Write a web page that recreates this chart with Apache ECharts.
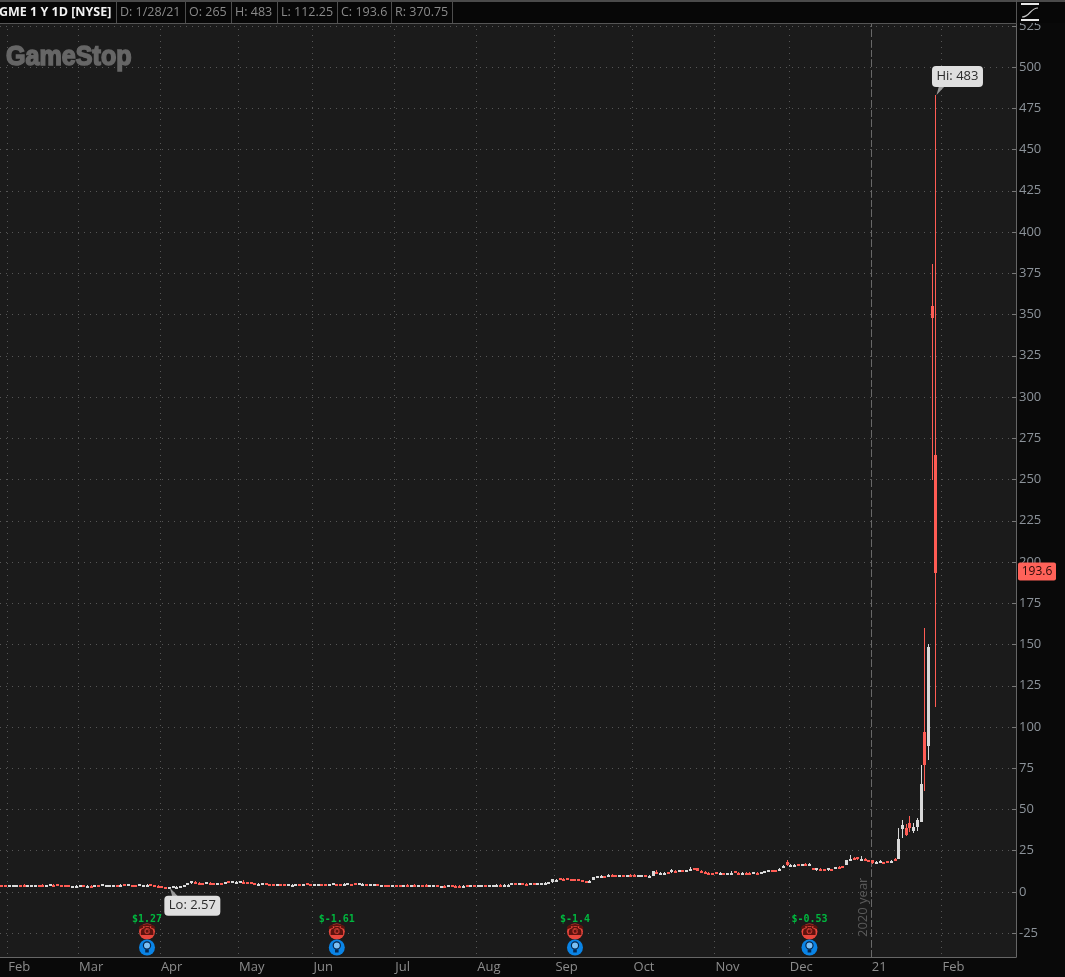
<!DOCTYPE html>
<html>
<head>
<meta charset="utf-8">
<title>GME 1 Y 1D</title>
<script src="https://cdn.jsdelivr.net/npm/echarts@6/dist/echarts.min.js"></script>
<style>
  html, body { margin: 0; padding: 0; background: #090909; }
  #main { width: 1065px; height: 977px; }
</style>
</head>
<body>
<div id="main"></div>
<script>
// daily candles, Jan 30 2020 .. Jan 28 2021
const opens = [
  4.45,3.95,3.75,3.8,4.2,4.35,4.5,3.9,3.95,4.0,
  4.35,4.5,4.0,3.9,4.5,4.7,4.0,3.95,4.0,3.3,
  3.2,3.8,3.95,3.75,3.85,3.75,3.95,3.85,3.9,3.95,
  4.1,4.3,4.0,4.6,3.9,4.3,4.2,3.9,4.1,4.0,
  4.9,4.2,3.9,3.4,3.2,2.9,2.95,3.1,3.2,3.5,
  4.4,5.2,6.3,5.7,5.4,5.35,5.6,5.3,5.2,5.25,
  5.0,6.4,5.7,5.7,6.0,6.3,6.0,6.0,5.3,5.0,
  5.1,5.2,4.7,4.6,3.9,4.8,4.7,4.4,4.5,4.5,
  4.6,4.5,5.3,4.9,4.5,4.5,4.6,4.6,4.55,4.5,
  5.0,4.85,4.8,4.4,4.9,5.6,4.4,4.4,4.85,4.75,
  4.7,5.0,4.3,4.35,4.4,4.35,4.4,4.35,4.3,4.45,
  4.3,4.4,4.2,4.3,4.5,3.95,4.0,4.05,3.5,3.8,
  3.5,3.95,3.9,3.9,3.7,3.95,3.6,4.1,3.7,4.1,
  4.3,4.25,4.3,4.3,4.4,4.35,4.4,4.5,5.5,4.7,
  5.2,5.0,4.9,5.4,5.35,5.4,5.5,5.55,5.9,6.6,
  8.4,8.0,8.3,7.9,7.9,8.0,7.1,6.6,6.8,7.2,
  8.7,9.3,9.7,9.9,10.5,10.3,9.6,10.4,9.9,10.3,
  10.4,9.8,9.8,10.1,9.5,9.5,12.0,11.2,11.3,12.2,
  11.8,12.9,12.2,13.2,12.9,13.4,14.3,14.5,13.0,12.1,
  11.7,11.5,11.9,10.9,11.5,11.0,11.0,12.6,11.8,11.6,
  11.8,11.8,11.0,11.6,11.6,11.8,12.2,13.5,13.4,13.0,
  14.8,18.0,15.8,15.6,16.7,16.2,17.2,16.4,14.4,13.1,
  14.2,13.9,13.0,14.0,14.1,15.4,15.6,16.2,19.4,20.7,
  21.0,19.6,20.0,19.5,19.3,17.9,18.0,18.2,18.9,18.0,
  19.9,20.0,38.2,39.0,42.0,37.0,39.6,42.6,97.0,88.5,355.0,265
];
const closes = [
  3.9,3.85,3.95,4.2,4.35,4.2,3.9,4.05,4.1,4.2,
  4.15,4.0,4.15,4.6,4.4,4.0,3.9,3.85,3.2,3.45,
  3.9,3.95,3.7,3.85,3.75,3.95,3.85,4.7,4.0,4.1,
  4.3,4.0,4.25,4.0,4.6,4.2,4.05,4.6,4.2,4.3,
  4.2,3.95,3.5,3.15,2.75,3.0,3.35,3.25,3.55,4.1,
  5.3,6.6,5.7,5.4,5.35,6.0,5.3,5.2,5.25,5.0,
  6.1,5.4,6.6,6.3,6.7,6.0,5.8,5.2,4.9,5.1,
  5.2,4.3,4.5,4.5,5.0,4.6,4.45,4.55,4.5,4.6,
  4.5,4.55,4.6,4.0,4.6,4.55,4.5,4.55,4.6,5.2,
  4.85,4.8,4.9,5.2,4.7,4.9,5.3,5.1,4.75,4.8,
  4.75,4.3,4.35,4.3,4.3,4.4,4.35,4.3,4.4,4.3,
  4.4,4.2,4.35,4.2,3.85,4.05,4.2,3.4,3.8,3.75,
  4.15,3.9,3.75,3.7,3.9,3.65,4.35,3.95,4.3,4.2,
  4.25,4.3,4.35,4.4,4.35,4.4,4.5,5.2,4.75,5.3,
  5.0,4.95,5.45,5.35,5.4,5.5,5.55,5.8,7.6,7.5,
  7.6,7.9,7.75,7.65,7.6,7.2,6.6,6.55,6.9,8.8,
  9.6,9.8,9.1,10.1,9.8,9.5,10.1,9.9,10.4,10.0,
  9.9,10.1,10.0,9.5,9.9,12.6,11.3,11.5,11.5,11.6,
  13.3,12.7,13.1,12.9,13.2,14.2,14.0,12.8,12.2,11.7,
  11.5,11.2,10.9,11.6,11.1,11.6,11.6,11.6,11.5,11.8,
  11.5,11.3,12.1,11.4,11.9,12.5,13.2,13.0,12.9,14.1,
  15.9,16.2,16.6,16.5,16.1,16.8,16.6,17.0,13.8,14.4,
  13.7,13.2,14.4,13.9,15.0,14.9,15.1,19.1,20.3,19.7,
  20.0,20.1,19.4,18.8,17.2,18.3,18.9,18.0,18.0,19.0,
  19.6,32.0,40.6,35.0,39.2,39.6,43.6,65.5,77.0,148.7,347.5,193.6
];
const lows = [
  3.85,3.75,3.7,3.75,4.1,4.1,3.85,3.75,3.8,3.9,
  4.0,3.95,3.9,3.85,4.2,3.95,3.8,3.75,3.15,3.0,
  3.15,3.55,3.6,3.6,3.6,3.65,3.7,3.8,3.7,3.75,
  3.9,3.85,3.85,3.95,3.85,3.9,3.9,3.85,3.9,3.85,
  4.15,3.85,3.4,3.05,2.7,2.57,2.85,2.95,3.1,3.4,
  4.3,5.1,5.1,5.0,5.0,5.2,5.1,5.0,4.95,4.8,
  4.9,5.3,5.6,5.5,5.9,5.7,5.7,5.1,4.8,4.8,
  4.8,4.2,4.35,4.3,3.85,4.4,4.3,4.3,4.3,4.4,
  4.3,4.35,4.5,3.95,4.35,4.3,4.35,4.4,4.4,4.4,
  4.6,4.6,4.6,4.3,4.6,4.8,4.3,4.3,4.6,4.5,
  4.5,4.2,4.2,4.15,4.15,4.2,4.2,4.15,4.15,4.2,
  4.15,4.0,4.1,4.05,3.8,3.8,3.95,3.35,3.4,3.6,
  3.45,3.7,3.65,3.55,3.6,3.55,3.55,3.65,3.65,3.95,
  4.1,4.1,4.15,4.15,4.2,4.2,4.25,4.4,4.6,4.6,
  4.8,4.8,4.85,5.1,5.15,5.2,5.3,5.35,5.7,6.9,
  7.5,7.4,7.6,7.5,7.5,7.1,6.5,6.1,6.6,7.1,
  8.6,9.2,9.0,9.6,9.7,9.4,9.5,9.8,9.8,9.9,
  9.6,9.5,9.6,9.4,9.4,9.4,11.1,11.0,11.1,11.4,
  11.7,12.2,12.1,12.7,12.7,13.2,13.7,12.7,11.9,11.4,
  11.1,10.9,10.8,10.8,10.9,10.9,10.9,11.4,11.2,11.1,
  11.2,11.1,10.9,11.2,11.3,11.7,12.1,12.8,12.7,12.9,
  14.7,15.9,15.5,15.4,15.9,16.1,16.4,16.3,13.6,13.0,
  13.3,12.9,12.9,13.6,14.0,14.7,14.9,16.1,19.0,19.5,
  19.5,19.4,19.2,18.5,17.0,17.6,17.8,17.7,17.6,17.9,
  19.3,20.0,33.0,34.0,36.5,35.6,37.0,42.3,61.1,80.2,250,112.25
];
const highs = [
  4.5,4.05,4.05,4.3,4.4,4.45,4.55,4.3,4.3,4.45,
  4.45,4.6,4.2,4.7,4.6,4.75,4.1,4.05,4.05,3.6,
  4.0,4.05,4.1,3.95,3.95,4.0,4.05,4.85,4.3,4.4,
  4.5,4.4,4.7,4.7,4.7,4.4,4.3,4.7,4.5,4.8,
  4.95,4.3,4.0,3.5,3.3,3.1,3.45,3.55,3.7,4.2,
  5.5,6.7,6.4,5.9,5.7,6.2,5.8,5.6,5.6,5.5,
  6.2,6.5,6.7,6.6,6.9,7.2,6.3,6.1,5.4,5.3,
  5.4,5.3,4.9,4.8,5.1,4.9,4.85,4.7,4.7,4.8,
  4.8,4.8,5.4,5.0,4.9,4.9,4.85,4.8,4.9,5.4,
  5.1,5.0,5.6,5.3,5.1,5.7,5.4,5.2,5.0,5.0,
  4.9,5.05,4.5,4.5,4.5,4.5,4.5,4.45,4.5,4.6,
  4.5,4.6,4.5,4.45,4.6,4.2,4.35,4.1,3.9,4.0,
  4.3,4.1,4.05,4.0,4.05,4.1,4.45,4.25,4.5,4.45,
  4.5,4.5,4.5,4.6,4.6,4.65,4.7,5.3,5.6,5.4,
  5.3,5.2,5.6,5.6,5.6,5.7,5.8,6.0,7.7,8.0,
  8.5,8.6,8.5,8.1,8.0,8.1,7.2,6.9,7.2,9.0,
  9.8,10.0,9.8,11.0,10.8,10.5,10.3,10.6,10.6,10.9,
  10.8,10.3,10.2,10.2,10.1,12.8,13.5,12.3,11.9,12.4,
  14.2,13.2,13.3,13.4,13.5,15.2,14.7,14.6,13.2,12.5,
  11.9,11.7,12.0,11.9,11.7,11.8,12.8,12.8,11.9,12.2,
  11.9,11.9,12.3,11.9,12.1,12.7,13.5,13.6,13.5,14.3,
  16.1,19.6,17.2,17.0,16.9,17.0,17.4,17.3,14.6,14.6,
  14.3,14.1,14.6,14.2,15.2,15.6,15.8,19.3,22.3,21.0,
  21.4,21.8,20.4,19.6,19.5,18.6,19.3,18.4,19.0,19.6,
  20.6,39.0,43.6,41.0,46.0,41.6,45.0,77.0,160,150.3,380.6,483
];

const slotCount = 273; // trading days plus the empty space right of the last candle
const monthStarts = [2, 21, 43, 64, 84, 106, 128, 149, 170, 192, 212, 234, 253];
const monthLabels = ["Feb", "Mar", "Apr", "May", "Jun", "Jul", "Aug", "Sep", "Oct", "Nov", "Dec", "21", "Feb"];
const yearStart = 234;
const priceTicks = [-25, 0, 25, 50, 75, 100, 125, 150, 175, 200, 225, 250, 275, 300, 325, 350, 375, 400, 425, 450, 475, 500, 525];
const priceMin = -39.4;
const priceMax = 526.7;

const earningsDays = [39, 90, 154, 217];
const earningsTexts = ["$1.27", "$-1.61", "$-1.4", "$-0.53"];

const calloutDays = [251, 45];
const calloutPrices = [483, 2.57];
const calloutTexts = ["Hi: 483", "Lo: 2.57"];

const lastClose = 193.6;
const headerTexts = ["D: 1/28/21", "O: 265", "H: 483", "L: 112.25", "C: 193.6", "R: 370.75"];
const headerEdges = [116, 185, 231, 277, 337, 391, 452];

const categories = [];
for (let i = 0; i < slotCount; i++) {
  const m = monthStarts.indexOf(i);
  categories.push(m >= 0 ? monthLabels[m] : "d" + i);
}
const candles = opens.map((o, i) => [i, o, closes[i], lows[i], highs[i]]);
const isMonthStart = (i) => monthStarts.includes(i);

const UP = "#d9d9d9";
const DOWN = "#ff5c54";
const UI_FONT = '"Open Sans", sans-serif';

// the platform never draws a body thinner than about 2px, so candles are drawn by hand
function renderCandle(params, api) {
  const day = api.value(0);
  const o = api.coord([day, api.value(1)]);
  const c = api.coord([day, api.value(2)]);
  const l = api.coord([day, api.value(3)]);
  const h = api.coord([day, api.value(4)]);
  const color = api.value(2) >= api.value(1) ? UP : DOWN;
  const x = Math.floor(o[0]) - 1;
  const top = Math.round(Math.min(o[1], c[1]));
  const bodyH = Math.max(2, Math.round(Math.abs(o[1] - c[1])));
  const wickTop = Math.round(h[1]);
  return {
    type: "group",
    children: [
      { type: "rect", shape: { x: x + 1, y: wickTop, width: 1, height: Math.max(1, Math.round(l[1]) - wickTop) }, style: { fill: color } },
      { type: "rect", shape: { x: x, y: top, width: 3, height: bodyH }, style: { fill: color } },
    ],
  };
}

function renderEarnings(params, api) {
  const i = params.dataIndex;
  const p = api.coord([earningsDays[i], 0]);
  const cx = p[0];
  const base = p[1];
  return {
    type: "group",
    children: [
      { type: "text", style: { x: cx, y: base + 27, text: earningsTexts[i], fill: "#00b83f", font: 'bold 10px "DejaVu Sans Mono"', align: "center", verticalAlign: "middle" } },
      { type: "circle", shape: { cx: cx, cy: base + 39.5, r: 8 }, style: { fill: "#e8463c" } },
      { type: "text", style: { x: cx, y: base + 39.5, text: "\u260E", fill: "#5c120e", font: '15px "DejaVu Sans"', align: "center", verticalAlign: "middle" } },
      { type: "circle", shape: { cx: cx, cy: base + 55.5, r: 8 }, style: { fill: "#0a84e6" } },
      { type: "circle", shape: { cx: cx, cy: base + 53.5, r: 3.6 }, style: { fill: "#7cc0f5", stroke: "#06264d", lineWidth: 1.2 } },
      { type: "rect", shape: { x: cx - 1.8, y: base + 57.5, width: 3.6, height: 3 }, style: { fill: "#06264d" } },
    ],
  };
}

function renderCallout(params, api) {
  const i = params.dataIndex;
  const p = api.coord([calloutDays[i], calloutPrices[i]]);
  const isHi = calloutPrices[i] > lastClose;
  const w = isHi ? 51 : 56;
  const h = isHi ? 21 : 20;
  const left = p[0] - (isHi ? 4 : 5);
  const top = isHi ? p[1] - 29 : p[1] + 8;
  const edge = isHi ? top + h - 1 : top + 1;
  return {
    type: "group",
    children: [
      { type: "polygon", shape: { points: [[p[0] + 0.5, p[1]], [p[0] + 9, edge], [p[0] + 3, edge]] }, style: { fill: "#9a9a9a" } },
      { type: "rect", shape: { x: left, y: top, width: w, height: h, r: 4 }, style: { fill: "#dfdfdf" } },
      { type: "text", style: { x: left + w / 2, y: top + h / 2, text: calloutTexts[i], fill: "#2b2b2b", font: "13px " + UI_FONT, align: "center", verticalAlign: "middle" } },
    ],
  };
}

function renderLastTag(params, api) {
  const p = api.coord([0, lastClose]);
  return {
    type: "group",
    children: [
      { type: "rect", shape: { x: 1018, y: p[1] - 10, width: 38, height: 18, r: 2 }, style: { fill: "#ff6259" } },
      { type: "text", style: { x: 1037, y: p[1] - 1, text: String(lastClose), fill: "#2a0a08", font: "12px " + UI_FONT, align: "center", verticalAlign: "middle" } },
    ],
  };
}

function renderYearMark(params, api) {
  const p = api.coord([yearStart, -27.3]);
  const x = Math.floor(p[0]) - 0.5;
  return {
    type: "group",
    children: [
      { type: "line", shape: { x1: x, y1: api.coord([yearStart, priceMin])[1], x2: x, y2: api.coord([yearStart, priceMax])[1] }, style: { stroke: "#686868", lineWidth: 1, lineDash: [7, 3] } },
      { type: "text", x: x - 8, y: p[1], rotation: Math.PI / 2, style: { x: 0, y: 0, text: "2020 year", fill: "#5a5a5a", font: "13px " + UI_FONT, align: "left", verticalAlign: "middle" } },
    ],
  };
}

const headerGraphics = [
  { type: "rect", z: 50, shape: { x: 0, y: 0, width: 1065, height: 23 }, style: { fill: "#070707" } },
  { type: "rect", z: 51, shape: { x: 0, y: 0, width: 1065, height: 2 }, style: { fill: "#4a4a4a" } },
  { type: "rect", z: 51, shape: { x: 0, y: 23, width: 1016, height: 1 }, style: { fill: "#555555" } },
  { type: "rect", z: 51, shape: { x: 1016, y: 0, width: 1, height: 24 }, style: { fill: "#555555" } },
  { type: "text", z: 52, style: { x: -1, y: 12.5, text: "GME 1 Y 1D [NYSE]", fill: "#f2f2f2", font: "bold 12.5px " + UI_FONT, verticalAlign: "middle" } },
  { type: "text", z: 5, x: 6, y: 58, scaleX: 0.93, style: { x: 0, y: 0, text: "GameStop", fill: "#666666", stroke: "#666666", lineWidth: 1.6, font: 'bold 27px "Liberation Sans"', verticalAlign: "middle" } },
  // study icon, top right corner
  { type: "rect", z: 52, shape: { x: 1021, y: 3, width: 18, height: 2 }, style: { fill: "#e8e8e8" } },
  { type: "rect", z: 52, shape: { x: 1021, y: 19, width: 18, height: 2 }, style: { fill: "#e8e8e8" } },
  { type: "bezierCurve", z: 52, shape: { x1: 1022, y1: 17, cpx1: 1030, cpy1: 17, cpx2: 1030, cpy2: 8, x2: 1038, y2: 8 }, style: { fill: null, stroke: "#c8c8c8", lineWidth: 1.2 } },
];
headerEdges.forEach((x) => {
  headerGraphics.push({ type: "rect", z: 51, shape: { x: x, y: 2, width: 1, height: 21 }, style: { fill: "#4d4d4d" } });
});
headerTexts.forEach((t, i) => {
  headerGraphics.push({ type: "text", z: 52, style: { x: headerEdges[i] + 4, y: 12.5, text: t, fill: "#8a8a8a", font: "12.5px " + UI_FONT, verticalAlign: "middle" } });
});

const option = {
  animation: false,
  backgroundColor: "#090909",
  grid: {
    show: true,
    left: 0,
    right: 49,
    top: 23,
    bottom: 20,
    backgroundColor: "#1b1b1b",
    borderWidth: 0,
  },
  xAxis: {
    type: "category",
    data: categories,
    axisLine: { onZero: false, lineStyle: { color: "#666666" } },
    axisTick: { inside: true, length: 4, interval: (i) => isMonthStart(i), lineStyle: { color: "#777777" } },
    axisLabel: {
      interval: (i) => isMonthStart(i),
      align: "left",
      margin: 4,
      padding: [0, 0, 0, -1],
      color: "#8c8c8c",
      fontFamily: "Open Sans",
      fontSize: 13,
    },
    splitLine: { show: true, interval: (i) => isMonthStart(i), lineStyle: { color: "#565656", type: [1, 5] } },
  },
  yAxis: {
    type: "value",
    position: "right",
    min: priceMin,
    max: priceMax,
    scale: true,
    axisLine: { show: true, lineStyle: { color: "#666666" } },
    axisTick: { show: true, inside: true, length: 4, customValues: priceTicks, lineStyle: { color: "#777777" } },
    axisLabel: {
      customValues: priceTicks,
      margin: 3,
      padding: [4, 0, 0, 0],
      color: "#8c939a",
      fontFamily: "Open Sans",
      fontSize: 13,
    },
    splitLine: { show: true, lineStyle: { color: "#565656", type: [1, 5] } },
  },
  graphic: headerGraphics,
  series: [
    { name: "year", type: "custom", z: 3, data: [yearStart], renderItem: renderYearMark, silent: true },
    { name: "GME", type: "custom", z: 4, data: candles, encode: { x: 0, y: [1, 2, 3, 4] }, renderItem: renderCandle, silent: true },
    { name: "earnings", type: "custom", z: 6, data: earningsDays, renderItem: renderEarnings, silent: true },
    { name: "callouts", type: "custom", z: 7, data: calloutDays, renderItem: renderCallout, silent: true },
    { name: "last", type: "custom", z: 8, data: [lastClose], renderItem: renderLastTag, silent: true },
  ],
};

const chart = echarts.init(document.getElementById("main"));
chart.setOption(option);
</script>
</body>
</html>
